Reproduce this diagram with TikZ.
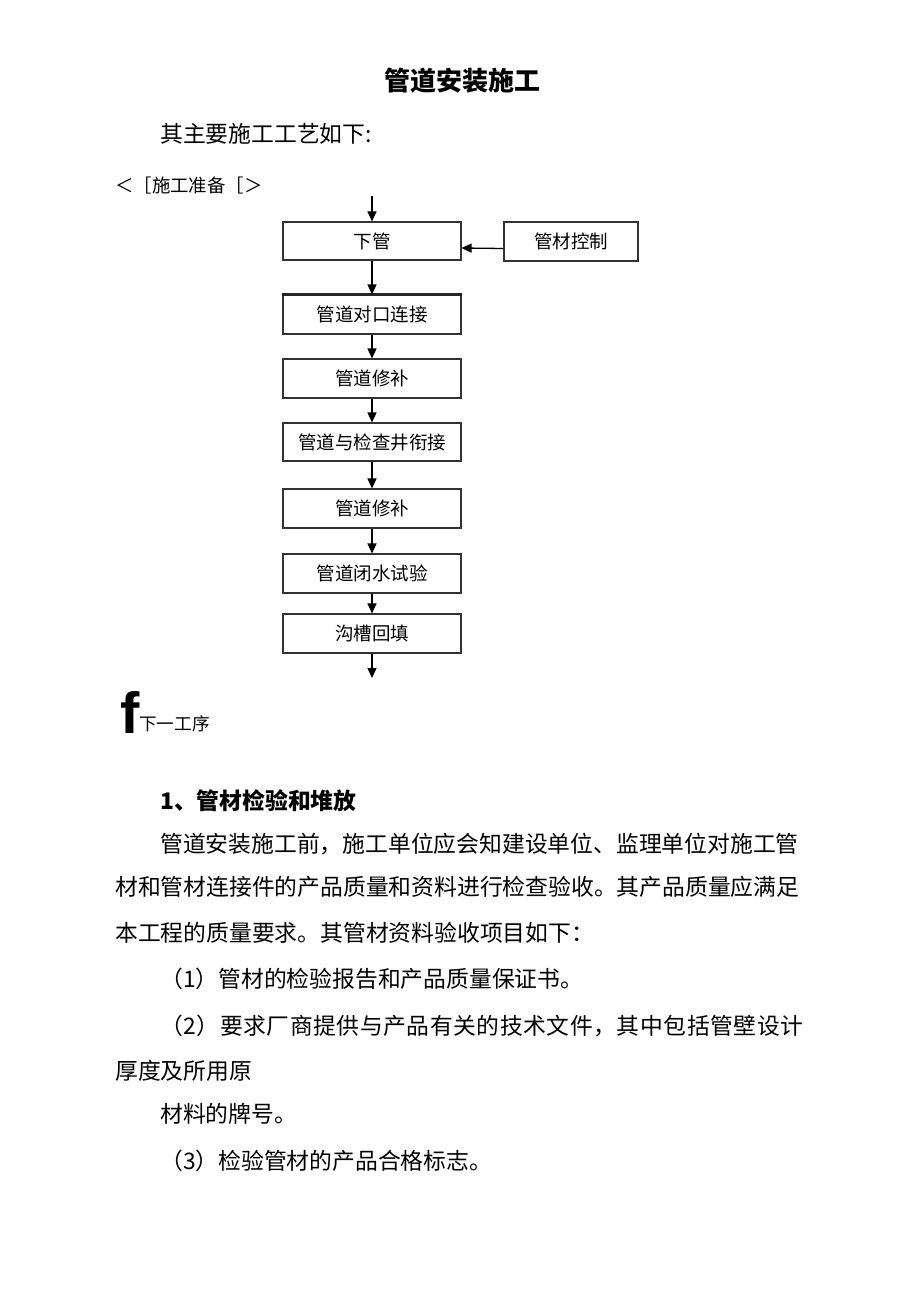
\documentclass[tikz,border=0pt]{standalone}
\usepackage{fontspec}
\setmainfont{Noto Sans CJK SC}
\newfontfamily\latinsans{Liberation Sans}
\newfontfamily\spacedcjk{Noto Sans CJK SC}[LetterSpace=2.4]
\usetikzlibrary{arrows.meta}
\tikzset{
  flowbox/.style={draw=black!80, line width=1.1pt, minimum width=178pt, minimum height=38pt, inner sep=0pt, font=\fontsize{18.5}{20}\selectfont},
  flowarrow/.style={line width=1.3pt, -{Triangle[length=10pt,width=9pt]}},
  bodytext/.style={anchor=base west, inner sep=0pt, font=\fontsize{22.8}{24}\selectfont},
}
\begin{document}
\begin{tikzpicture}[x=1pt,y=-1pt]
\useasboundingbox[fill=white] (0,0) rectangle (920,1301);
% title and intro
\node[anchor=base, inner sep=0pt, font=\fontsize{26}{28}\selectfont\bfseries] (title) at (462,90) {管道安装施工};
\node[bodytext] (intro) at (160,142) {其主要施工工艺如下:};
\node[anchor=base west, inner sep=0pt, font=\fontsize{18.4}{20}\selectfont] (prep) at (115,192) {＜［施工准备［＞};
% flowchart
\coordinate (start) at (372,196);
\node[flowbox] (n1) at (372,241) {下管};
\node[flowbox, minimum width=134pt, minimum height=39pt] (ctrl) at (571,241.5) {管材控制};
\node[flowbox, minimum height=39pt] (n2) at (372,314.5) {管道对口连接};
\node[flowbox, minimum height=39pt] (n3) at (372,378.5) {管道修补};
\node[flowbox] (n4) at (372,442) {管道与检查井衔接};
\node[flowbox, minimum height=39pt] (n5) at (372,508.5) {管道修补};
\node[flowbox, minimum height=39pt] (n6) at (372,573.5) {管道闭水试验};
\node[flowbox, minimum height=39pt] (n7) at (372,633.5) {沟槽回填};
\coordinate (finish) at (372,678);
\draw[line width=2.4pt, black!85] (n2.north west) -- (n2.north east);
\draw[flowarrow] (start) -- (n1.north);
\draw[flowarrow] ([yshift=-7pt]ctrl.west) -- ([yshift=-7pt]n1.east);
\draw[flowarrow] (n1.south) -- (n2.north);
\draw[flowarrow] (n2.south) -- (n3.north);
\draw[flowarrow] (n3.south) -- (n4.north);
\draw[flowarrow] (n4.south) -- (n5.north);
\draw[flowarrow] (n5.south) -- (n6.north);
\draw[flowarrow] (n6.south) -- (n7.north);
\draw[flowarrow] (n7.south) -- (finish);
% next step
\node[anchor=base west, inner sep=0pt, font=\fontsize{58}{60}\selectfont\latinsans\bfseries] (fmark) at (120,733) {f};
\node[anchor=base west, inner sep=0pt, font=\fontsize{17.6}{19}\selectfont] (next) at (139,730) {下一工序};
% section text
\node[bodytext, font=\fontsize{22.8}{24}\selectfont\bfseries] (sec) at (160,809) {1、管材检验和堆放};
\node[bodytext] (p1) at (160,852) {管道安装施工前，施工单位应会知建设单位、监理单位对施工管};
\node[bodytext] (p2) at (115,895) {材和管材连接件的产品质量和资料进行检查验收。其产品质量应满足};
\node[bodytext] (p3) at (115,941) {本工程的质量要求。其管材资料验收项目如下：};
\node[bodytext] (i1) at (160,987) {（1）管材的检验报告和产品质量保证书。};
\node[bodytext, font=\fontsize{22.8}{24}\spacedcjk] (i2) at (160,1034) {（2）要求厂商提供与产品有关的技术文件，其中包括管壁设计};
\node[bodytext] (i2b) at (115,1079) {厚度及所用原};
\node[bodytext] (i2c) at (160,1122) {材料的牌号。};
\node[bodytext] (i3) at (160,1169) {（3）检验管材的产品合格标志。};
\end{tikzpicture}
\end{document}
